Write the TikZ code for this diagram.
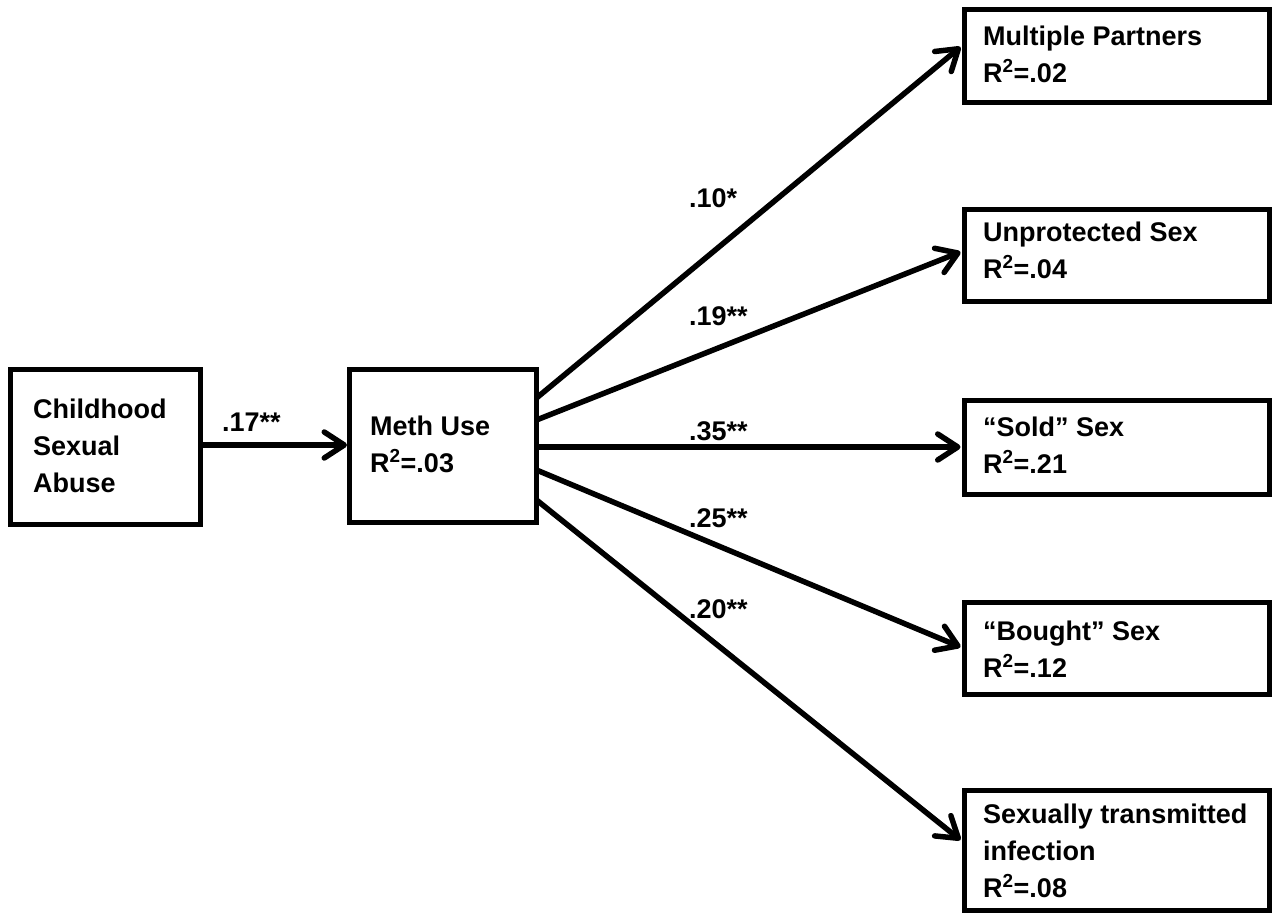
\documentclass[tikz,border=0pt]{standalone}
\usepackage{fontspec}
\setmainfont{Liberation Sans}
\usetikzlibrary{arrows.meta,calc}
\begin{document}
\begin{tikzpicture}[x=1pt,y=-1pt,
  box/.style={draw,line width=5pt,rectangle,outer sep=0pt,inner sep=0pt,anchor=north west},
  txt/.style={anchor=base west,inner sep=0pt,align=left,font=\fontsize{27}{36.7}\selectfont\bfseries},
  coef/.style={anchor=base west,inner sep=0pt,font=\fontsize{27}{36.7}\selectfont\bfseries},
  conn/.style={line width=5.5pt,-{Straight Barb[length=20pt,width=26pt,round]}}
]
\useasboundingbox (0,0) rectangle (1280,918);

% boxes
\node[box,minimum width=190pt,minimum height=155pt] (csa) at (10.5,369.5) {};
\node[box,minimum width=187pt,minimum height=153pt] (meth) at (349.5,369.5) {};
\node[box,minimum width=305pt,minimum height=93pt] (mp) at (964.5,9.5) {};
\node[box,minimum width=305pt,minimum height=92pt] (us) at (964.5,209.5) {};
\node[box,minimum width=305pt,minimum height=94pt] (sold) at (964.5,400.5) {};
\node[box,minimum width=305pt,minimum height=92pt] (bought) at (964.5,602.5) {};
\node[box,minimum width=305pt,minimum height=120pt] (sti) at (964.5,790.5) {};

% box texts (anchored at the baseline of the last line)
\node[txt] (csat) at (33,492) {Childhood\\Sexual\\Abuse};
\node[txt] (metht) at (370,472) {Meth Use\\R\textsuperscript{2}=.03};
\node[txt] (mpt) at (983,82) {Multiple Partners\\R\textsuperscript{2}=.02};
\node[txt] (ust) at (983,278) {Unprotected Sex\\R\textsuperscript{2}=.04};
\node[txt] (soldt) at (983,473) {“Sold” Sex\\R\textsuperscript{2}=.21};
\node[txt] (boughtt) at (983,677) {“Bought” Sex\\R\textsuperscript{2}=.12};
\node[txt] (stit) at (983,897) {Sexually transmitted\\infection\\R\textsuperscript{2}=.08};

% connectors
\draw[conn] ($(csa.north east)+(0,75.5)$) -- ($(meth.north west)+(-2.5,75.5)$);
\draw[conn] ($(meth.north east)+(0,28.5)$) -- ($(mp.north west)+(-4,37.5)$);
\draw[conn] ($(meth.north east)+(0,50.5)$) -- ($(us.north west)+(-4,42.5)$);
\draw[conn] ($(meth.north east)+(0,77.5)$) -- ($(sold.north west)+(-4,46.5)$);
\draw[conn] ($(meth.north east)+(0,100.5)$) -- ($(bought.north west)+(-4,44.5)$);
\draw[conn] ($(meth.north east)+(0,130.5)$) -- ($(sti.north west)+(-4,49.5)$);

% coefficients
\node[coef] (c17) at (222,431) {.17**};
\node[coef] (c10) at (689,207) {.10*};
\node[coef] (c19) at (689,325) {.19**};
\node[coef] (c35) at (689,440) {.35**};
\node[coef] (c25) at (689,527) {.25**};
\node[coef] (c20) at (689,618) {.20**};
\end{tikzpicture}
\end{document}
